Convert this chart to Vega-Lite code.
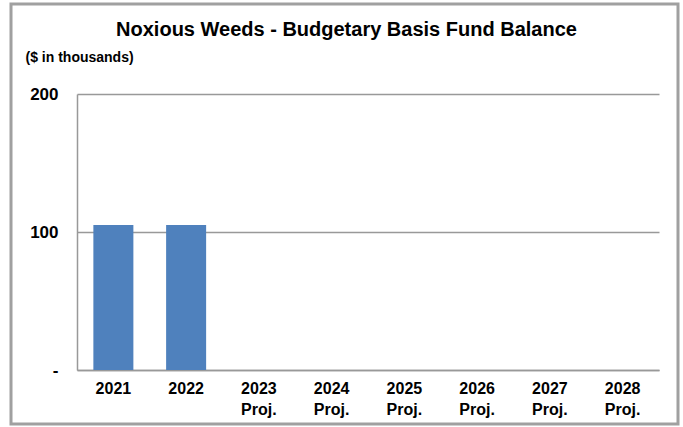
{
  "$schema": "https://vega.github.io/schema/vega-lite/v6.json",
  "autosize": "none",
  "width": 667,
  "height": 420,
  "padding": {"left": 11, "top": 4, "right": 5, "bottom": 3},
  "background": "white",
  "title": {
    "text": "Noxious Weeds - Budgetary Basis Fund Balance",
    "font": "Liberation Sans",
    "fontSize": 20,
    "fontWeight": "bold",
    "color": "#000000",
    "anchor": "middle",
    "frame": "group",
    "baseline": "alphabetic",
    "offset": -33,
    "dy": 19,
    "dx": 2
  },
  "data": {
    "values": [
      {"year": "2021", "balance": 105},
      {"year": "2022", "balance": 105},
      {"year": "2023 Proj.", "balance": null},
      {"year": "2024 Proj.", "balance": null},
      {"year": "2025 Proj.", "balance": null},
      {"year": "2026 Proj.", "balance": null},
      {"year": "2027 Proj.", "balance": null},
      {"year": "2028 Proj.", "balance": null}
    ]
  },
  "mark": {"type": "bar", "color": "#4F81BD"},
  "encoding": {
    "x": {
      "field": "year",
      "type": "nominal",
      "sort": null,
      "scale": {
        "domain": ["2021", "2022", "2023 Proj.", "2024 Proj.", "2025 Proj.", "2026 Proj.", "2027 Proj.", "2028 Proj."],
        "range": [66, 648],
        "paddingInner": 0.45,
        "paddingOuter": 0.225
      },
      "axis": {
        "title": null,
        "orient": "bottom",
        "offset": -54,
        "labelAngle": 0,
        "labelExpr": "split(datum.label, ' ')",
        "labelLineHeight": 21,
        "labelBaseline": "top",
        "labelPadding": 10,
        "ticks": false,
        "tickSize": 0,
        "grid": false,
        "domainColor": "#999999",
        "domainWidth": 1.5,
        "labelFont": "Liberation Sans",
        "labelFontWeight": "bold",
        "labelFontSize": 16,
        "labelColor": "#000000"
      }
    },
    "y": {
      "field": "balance",
      "type": "quantitative",
      "scale": {"domain": [0, 200], "range": [366, 90], "nice": false},
      "axis": {
        "title": "($ in thousands)",
        "titleAngle": 0,
        "titleAlign": "left",
        "titleBaseline": "middle",
        "titleX": -52,
        "titleY": 53,
        "titleFont": "Liberation Sans",
        "titleFontWeight": "bold",
        "titleFontSize": 14,
        "titleColor": "#000000",
        "offset": -66,
        "values": [0, 100, 200],
        "labelExpr": "datum.value == 0 ? '-' : datum.label",
        "ticks": false,
        "tickSize": 0,
        "labelPadding": 19,
        "labelFont": "Liberation Sans",
        "labelFontWeight": "bold",
        "labelFontSize": 17,
        "labelColor": "#000000",
        "grid": true,
        "gridColor": "#999999",
        "gridWidth": 1.5,
        "domainColor": "#999999",
        "domainWidth": 1.5
      }
    }
  },
  "config": {
    "view": {"stroke": "#a0a0a0", "strokeWidth": 3}
  }
}
